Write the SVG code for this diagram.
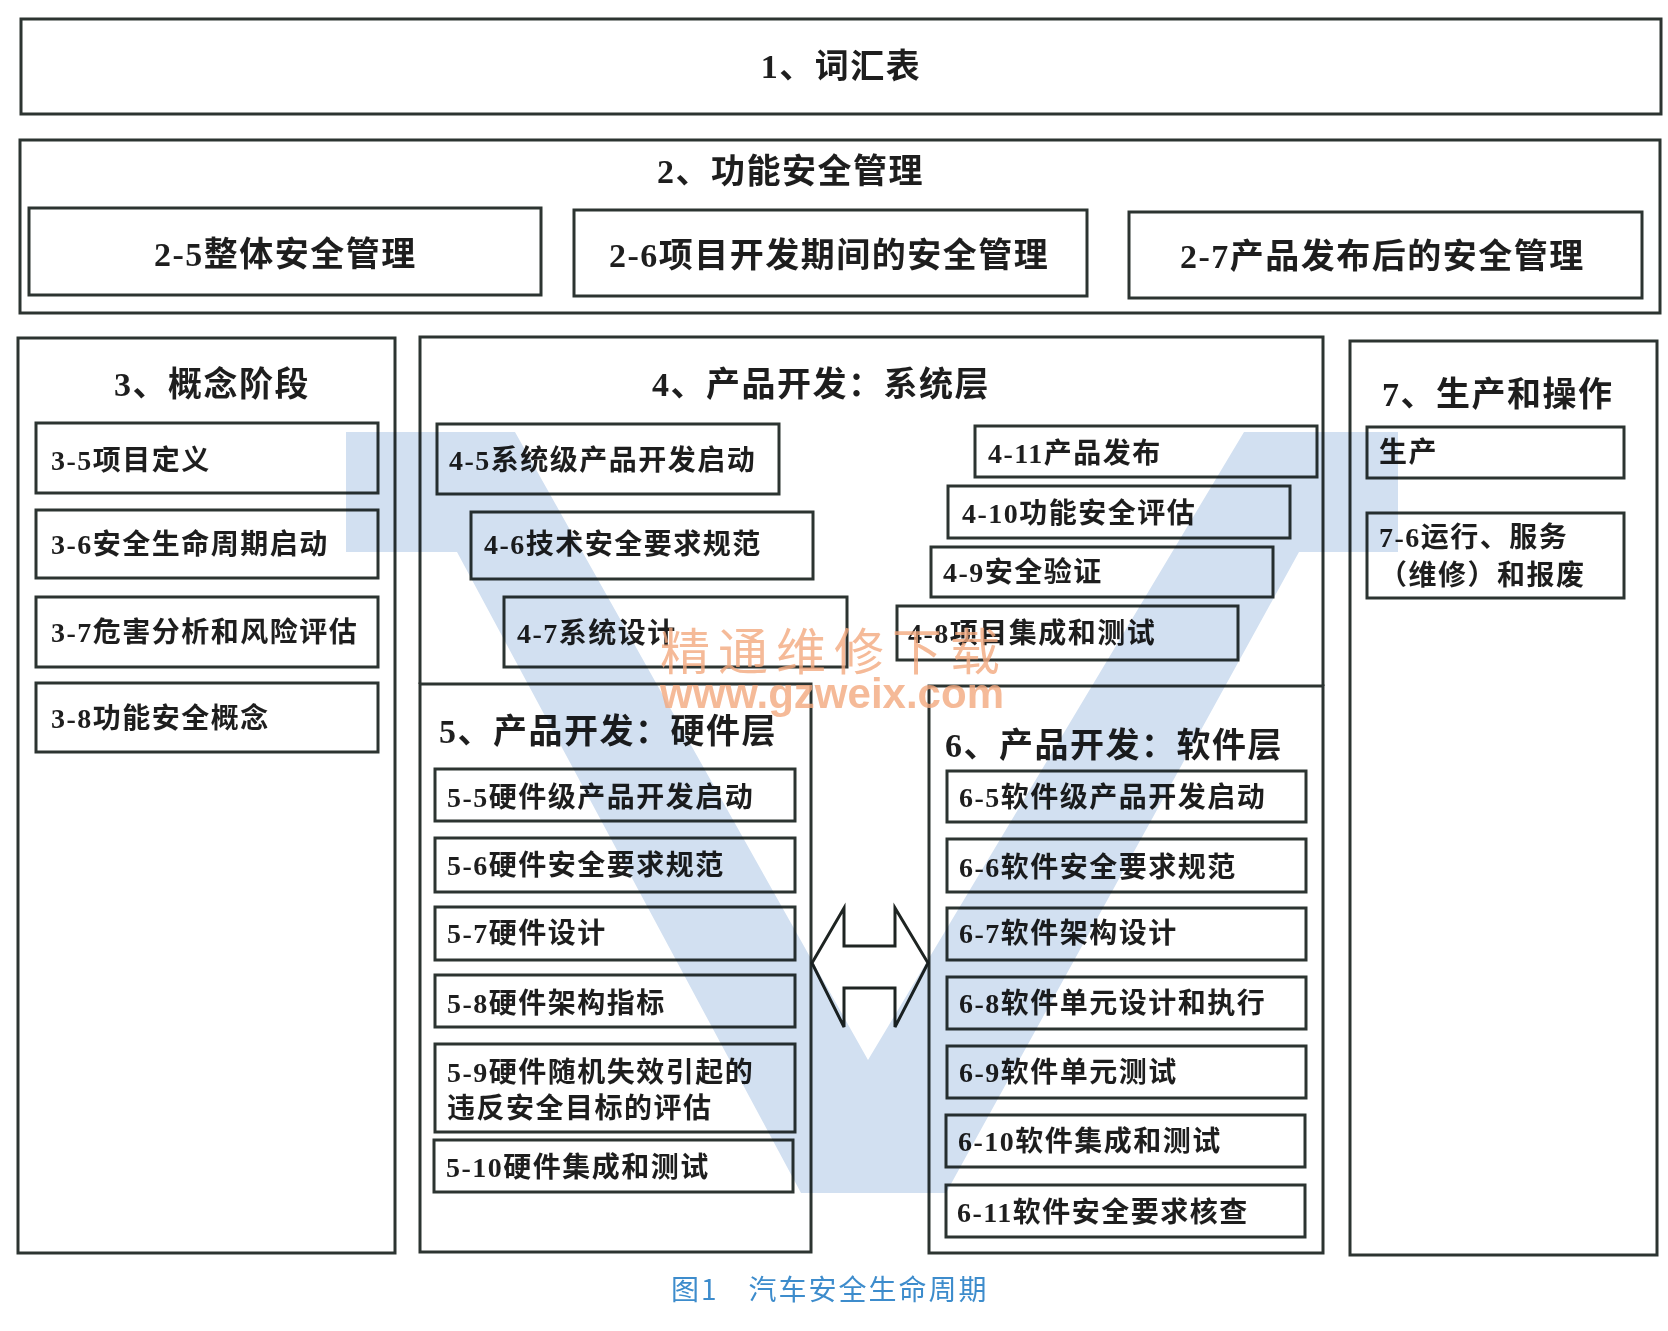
<svg xmlns="http://www.w3.org/2000/svg" width="1668" height="1331" viewBox="0 0 1668 1331">
<style>
.frame{fill:none;stroke:#2c3431;stroke-width:3}
.box{fill:#fff;stroke:#2c3431;stroke-width:3}
.t{font-family:"Liberation Serif","Noto Sans CJK SC",serif;fill:#1e1e1e;font-weight:600}
.title{font-size:34px;letter-spacing:1.5px}
.lab{font-size:28px;letter-spacing:1.5px}
.arrow{fill:#fff;stroke:#1e2422;stroke-width:3;stroke-linejoin:miter}
.logo{fill:#d2e0f1;mix-blend-mode:multiply}
.wm{font-family:"Noto Sans CJK SC","Liberation Sans",sans-serif;fill:#f3a97f;opacity:0.8}
.cap{font-family:"Noto Sans CJK SC","Liberation Sans",sans-serif;font-size:28px;fill:#3d8ccc;letter-spacing:2px}
</style>
<rect width="1668" height="1331" fill="#fff"/>

<g id="n1">
<rect class="frame" x="21" y="19" width="1640" height="95"/>
<text class="t title" x="841" y="78" text-anchor="middle">1、词汇表</text>
</g>

<g id="n2">
<rect class="frame" x="20" y="140" width="1640" height="173"/>
<text class="t title" x="657" y="183">2、功能安全管理</text>
</g>
<g id="n2-5">
<rect class="box" x="29" y="208" width="512" height="87"/>
<text class="t title" x="154" y="266">2-5整体安全管理</text>
</g>
<g id="n2-6">
<rect class="box" x="574" y="210" width="513" height="86"/>
<text class="t title" x="609" y="267">2-6项目开发期间的安全管理</text>
</g>
<g id="n2-7">
<rect class="box" x="1129" y="212" width="513" height="86"/>
<text class="t title" x="1180" y="268">2-7产品发布后的安全管理</text>
</g>

<g id="n3">
<rect class="frame" x="18" y="338" width="377" height="915"/>
<text class="t title" x="114" y="396">3、概念阶段</text>
</g>
<g id="n3-5"><rect class="box" x="36" y="423" width="342" height="70"/><text class="t lab" x="51" y="470">3-5项目定义</text></g>
<g id="n3-6"><rect class="box" x="36" y="510" width="342" height="68"/><text class="t lab" x="51" y="554">3-6安全生命周期启动</text></g>
<g id="n3-7"><rect class="box" x="36" y="597" width="342" height="70"/><text class="t lab" x="51" y="642">3-7危害分析和风险评估</text></g>
<g id="n3-8"><rect class="box" x="36" y="683" width="342" height="69"/><text class="t lab" x="51" y="728">3-8功能安全概念</text></g>

<g id="n4">
<path class="frame" d="M420,684 V337 H1323 V686" stroke-width="4"/>
<text class="t title" x="652" y="396">4、产品开发：系统层</text>
</g>
<g id="n4-5"><rect class="box" x="437" y="424" width="342" height="70"/><text class="t lab" x="449" y="470">4-5系统级产品开发启动</text></g>
<g id="n4-6"><rect class="box" x="471" y="512" width="342" height="67"/><text class="t lab" x="484" y="554">4-6技术安全要求规范</text></g>
<g id="n4-7"><rect class="box" x="504" y="597" width="343" height="70"/><text class="t lab" x="517" y="643">4-7系统设计</text></g>
<g id="n4-11"><rect class="box" x="975" y="426" width="342" height="51"/><text class="t lab" x="988" y="463">4-11产品发布</text></g>
<g id="n4-10"><rect class="box" x="948" y="486" width="342" height="52"/><text class="t lab" x="962" y="523">4-10功能安全评估</text></g>
<g id="n4-9"><rect class="box" x="931" y="547" width="342" height="50"/><text class="t lab" x="943" y="582">4-9安全验证</text></g>
<g id="n4-8"><rect class="box" x="897" y="606" width="341" height="54"/><text class="t lab" x="908" y="643">4-8项目集成和测试</text></g>

<g id="n5">
<rect class="frame" x="420" y="684" width="391" height="568" stroke-width="3.5"/>
<text class="t title" x="439" y="743">5、产品开发：硬件层</text>
</g>
<g id="n5-5"><rect class="box" x="435" y="769" width="360" height="52"/><text class="t lab" x="447" y="807">5-5硬件级产品开发启动</text></g>
<g id="n5-6"><rect class="box" x="435" y="838" width="360" height="54"/><text class="t lab" x="447" y="875">5-6硬件安全要求规范</text></g>
<g id="n5-7"><rect class="box" x="435" y="907" width="360" height="53"/><text class="t lab" x="447" y="943">5-7硬件设计</text></g>
<g id="n5-8"><rect class="box" x="435" y="975" width="360" height="52"/><text class="t lab" x="447" y="1013">5-8硬件架构指标</text></g>
<g id="n5-9"><rect class="box" x="435" y="1044" width="360" height="88"/><text class="t lab" x="447" y="1082">5-9硬件随机失效引起的</text><text class="t lab" x="447" y="1118">违反安全目标的评估</text></g>
<g id="n5-10"><rect class="box" x="434" y="1140" width="359" height="52"/><text class="t lab" x="446" y="1177">5-10硬件集成和测试</text></g>

<g id="n6">
<rect class="frame" x="929" y="686" width="394" height="567" stroke-width="3.5"/>
<text class="t title" x="945" y="757">6、产品开发：软件层</text>
</g>
<g id="n6-5"><rect class="box" x="947" y="771" width="359" height="51"/><text class="t lab" x="959" y="807">6-5软件级产品开发启动</text></g>
<g id="n6-6"><rect class="box" x="947" y="839" width="359" height="53"/><text class="t lab" x="959" y="877">6-6软件安全要求规范</text></g>
<g id="n6-7"><rect class="box" x="947" y="908" width="359" height="52"/><text class="t lab" x="959" y="943">6-7软件架构设计</text></g>
<g id="n6-8"><rect class="box" x="947" y="977" width="359" height="52"/><text class="t lab" x="959" y="1013">6-8软件单元设计和执行</text></g>
<g id="n6-9"><rect class="box" x="947" y="1046" width="359" height="52"/><text class="t lab" x="959" y="1082">6-9软件单元测试</text></g>
<g id="n6-10"><rect class="box" x="946" y="1115" width="359" height="52"/><text class="t lab" x="958" y="1151">6-10软件集成和测试</text></g>
<g id="n6-11"><rect class="box" x="946" y="1185" width="359" height="52"/><text class="t lab" x="957" y="1222">6-11软件安全要求核查</text></g>

<g id="n7">
<rect class="frame" x="1350" y="341" width="307" height="914"/>
<text class="t title" x="1382" y="406">7、生产和操作</text>
</g>
<g id="n7-5"><rect class="box" x="1367" y="427" width="257" height="51"/><text class="t lab" x="1379" y="462">生产</text></g>
<g id="n7-6"><rect class="box" x="1367" y="513" width="257" height="85"/><text class="t lab" x="1379" y="547">7-6运行、服务</text><text class="t lab" x="1379" y="585">（维修）和报废</text></g>

<g id="connectors">
<path class="arrow" d="M812,963 L844,908 L844,946 L895,946 L895,908 L928,963 L895,1027 L895,988 L844,988 L844,1027 Z"/>
</g>

<g id="logo">
<path class="logo" d="M346,432 L515,432 L868,1060 L1244,432 L1398,432 L1398,552 L1299,552 L946,1193 L801,1193 L457,552 L346,552 Z"/>
</g>

<g id="watermark">
<text class="wm" x="660" y="670" font-size="50" letter-spacing="8">精通维修下载</text>
<text class="wm" x="660" y="708" font-size="42" font-weight="bold" textLength="344" lengthAdjust="spacingAndGlyphs" style="font-family:'Liberation Sans',sans-serif">www.gzweix.com</text>
</g>

<text class="cap" x="671" y="1300">图1　汽车安全生命周期</text>
</svg>
